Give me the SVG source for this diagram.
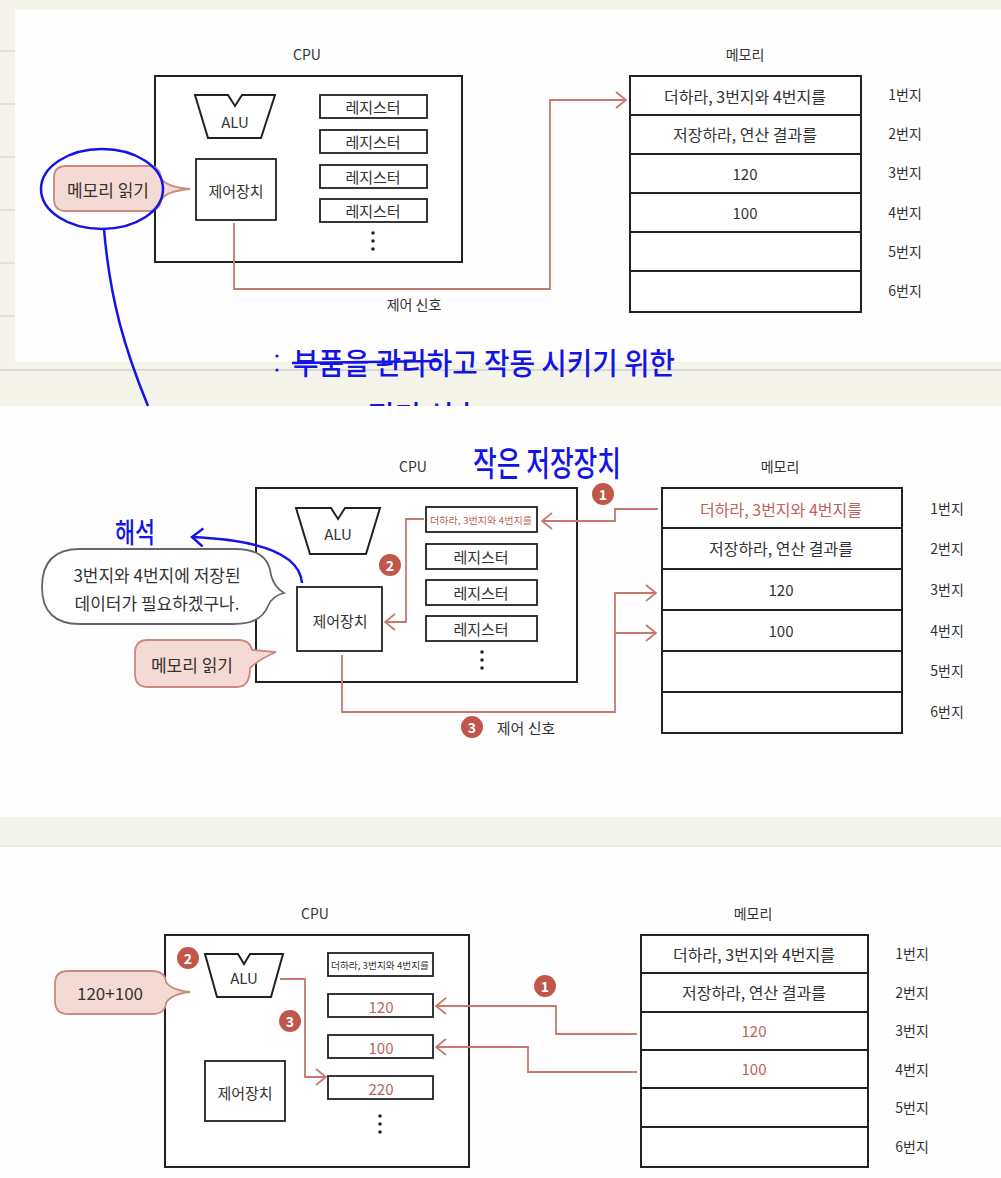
<svg xmlns="http://www.w3.org/2000/svg" width="1001" height="1178" viewBox="0 0 1001 1178">
<style>
text{font-family:"Noto Sans CJK KR","Noto Sans",sans-serif;fill:#333;dominant-baseline:central;text-anchor:middle}
.t{font-size:15px}
.m{font-size:16px}
.b{font-size:17px}
.s{font-size:14px}
.red{fill:#c0625a}
.box{fill:#fff;stroke:#222;stroke-width:2}
.reg{fill:#fff;stroke:#222;stroke-width:1.8}
.div{stroke:#222;stroke-width:1.8}
.con{fill:none;stroke:#c9786d;stroke-width:1.8}
.pink{fill:#f3dad4;stroke:#c98a80;stroke-width:1.8}
.bub{fill:#fff;stroke:#666;stroke-width:1.8}
.num{fill:#c0574a}
.numt{fill:#fff;font-size:14px;font-weight:bold}
.blue{fill:#1414e6;font-weight:500}
.bl{fill:none;stroke:#1414e6;stroke-width:2.5}
</style>
<defs>
<marker id="ar" viewBox="0 0 12 18" refX="11" refY="9" markerWidth="12" markerHeight="18" orient="auto" markerUnits="userSpaceOnUse">
<path d="M1,1 L11,9 L1,17" fill="none" stroke="#c9786d" stroke-width="1.8"/>
</marker>
<marker id="ab" viewBox="0 0 14 20" refX="12" refY="10" markerWidth="14" markerHeight="20" orient="auto" markerUnits="userSpaceOnUse">
<path d="M1,1 L12,10 L1,19" fill="none" stroke="#1414e6" stroke-width="2.5"/>
</marker>
<clipPath id="clipLow"><rect x="0" y="370" width="1001" height="36"/></clipPath>
</defs>

<!-- background -->
<rect x="0" y="0" width="1001" height="1178" fill="#f5f4ea"/>
<g stroke="#d6d6cf" stroke-width="1.2">
<line x1="0" y1="51" x2="15" y2="51"/><line x1="0" y1="104" x2="15" y2="104"/><line x1="0" y1="157" x2="15" y2="157"/>
<line x1="0" y1="210" x2="15" y2="210"/><line x1="0" y1="263" x2="15" y2="263"/><line x1="0" y1="316" x2="15" y2="316"/>
</g>
<rect x="15" y="10" width="986" height="352" fill="#fefefe"/>
<line x1="0" y1="370" x2="1001" y2="370" stroke="#cfcfcf" stroke-width="1.5"/>
<rect x="0" y="406" width="1001" height="411" fill="#fefefe"/>
<line x1="0" y1="846" x2="1001" y2="846" stroke="#e2e2da" stroke-width="1"/>
<rect x="0" y="847" width="1001" height="331" fill="#fefefe"/>

<!-- ================= PANEL 1 ================= -->
<g id="p1-cpu">
<text class="s" x="307" y="54">CPU</text>
<rect class="box" x="155" y="76" width="307" height="186"/>
</g>
<g id="p1-alu">
<path class="box" d="M195,95 H228 L235,106 L242,95 H275 L261,138 H208 Z"/>
<text class="t" x="235" y="121">ALU</text>
</g>
<g id="p1-cu">
<rect class="reg" x="196" y="159" width="80" height="61"/>
<text class="t" x="236" y="190">제어장치</text>
</g>
<g id="p1-regs">
<rect class="reg" x="320" y="95" width="107" height="23"/><text class="t" x="373" y="106">레지스터</text>
<rect class="reg" x="320" y="130" width="107" height="23"/><text class="t" x="373" y="141">레지스터</text>
<rect class="reg" x="320" y="165" width="107" height="23"/><text class="t" x="373" y="176">레지스터</text>
<rect class="reg" x="320" y="199" width="107" height="23"/><text class="t" x="373" y="210">레지스터</text>
<circle cx="373" cy="233" r="1.8" fill="#222"/><circle cx="373" cy="241" r="1.8" fill="#222"/><circle cx="373" cy="249" r="1.8" fill="#222"/>
</g>
<g id="p1-signal"><text class="s" x="414" y="304">제어 신호</text></g>
<g id="p1-mem">
<text class="s" x="745" y="54">메모리</text>
<rect class="box" x="630" y="76" width="231" height="236"/>
<line class="div" x1="630" y1="115" x2="861" y2="115"/><line class="div" x1="630" y1="154" x2="861" y2="154"/>
<line class="div" x1="630" y1="193" x2="861" y2="193"/><line class="div" x1="630" y1="232" x2="861" y2="232"/>
<line class="div" x1="630" y1="271" x2="861" y2="271"/>
<text class="m" x="745" y="96">더하라, 3번지와 4번지를</text>
<text class="m" x="745" y="134">저장하라, 연산 결과를</text>
<text class="t" x="745" y="173">120</text>
<text class="t" x="745" y="212">100</text>
</g>
<g id="p1-addr">
<text class="s" x="905" y="94">1번지</text><text class="s" x="905" y="133">2번지</text><text class="s" x="905" y="172">3번지</text>
<text class="s" x="905" y="212">4번지</text><text class="s" x="905" y="251">5번지</text><text class="s" x="905" y="290">6번지</text>
</g>
<g id="p1-bubble">
<path class="pink" d="M66,166 H148 Q160,166 161,178 Q166,187 190,189 Q166,191 161,200 Q160,211 148,211 H66 Q54,211 54,199 V178 Q54,166 66,166 Z"/>
<text class="b" x="108" y="189">메모리 읽기</text>
</g>
<g id="p1-connectors">
<path class="con" d="M234,223 V289 H550 V100 H626" marker-end="url(#ar)"/>
</g>
<g id="p1-ink">
<ellipse class="bl" cx="102" cy="189" rx="61" ry="40"/>
<path class="bl" d="M104,229 C110,300 125,350 148,406"/>
<circle cx="277" cy="356" r="1.6" fill="#1414e6"/><circle cx="277" cy="370" r="1.6" fill="#1414e6"/>
<line x1="292" y1="363" x2="440" y2="361" stroke="#1414e6" stroke-width="2.5"/>
<text class="blue" x="484" y="361" font-size="30" textLength="382" lengthAdjust="spacingAndGlyphs">부품을 관리하고 작동 시키기 위한</text>
<text class="blue" x="424" y="414" font-size="30" textLength="112" lengthAdjust="spacingAndGlyphs" clip-path="url(#clipLow)">전기 신호</text>
</g>

<!-- ================= PANEL 2 ================= -->
<g id="p2-cpu">
<text class="s" x="413" y="466">CPU</text>
<rect class="box" x="256" y="488" width="321" height="194"/>
</g>
<g id="p2-alu">
<path class="box" d="M296,508 H331 L338,519 L345,508 H380 L366,554 H310 Z"/>
<text class="t" x="338" y="533">ALU</text>
</g>
<g id="p2-cu">
<rect class="reg" x="297" y="587" width="85" height="64"/>
<text class="t" x="340" y="620">제어장치</text>
</g>
<g id="p2-regs">
<rect class="reg" x="426" y="507" width="111" height="25"/>
<text class="red" x="481" y="520" font-size="9.5" textLength="102" lengthAdjust="spacingAndGlyphs">더하라, 3번지와 4번지를</text>
<rect class="reg" x="426" y="544" width="111" height="25"/><text class="t" x="481" y="556">레지스터</text>
<rect class="reg" x="426" y="580" width="111" height="25"/><text class="t" x="481" y="592">레지스터</text>
<rect class="reg" x="426" y="616" width="111" height="25"/><text class="t" x="481" y="628">레지스터</text>
<circle cx="482" cy="652" r="1.8" fill="#222"/><circle cx="482" cy="660" r="1.8" fill="#222"/><circle cx="482" cy="668" r="1.8" fill="#222"/>
</g>
<g id="p2-mem">
<text class="s" x="780" y="466">메모리</text>
<rect class="box" x="662" y="488" width="240" height="245"/>
<line class="div" x1="662" y1="528" x2="902" y2="528"/><line class="div" x1="662" y1="569" x2="902" y2="569"/>
<line class="div" x1="662" y1="610" x2="902" y2="610"/><line class="div" x1="662" y1="651" x2="902" y2="651"/>
<line class="div" x1="662" y1="692" x2="902" y2="692"/>
<text class="m red" x="781" y="509">더하라, 3번지와 4번지를</text>
<text class="m" x="781" y="548">저장하라, 연산 결과를</text>
<text class="t" x="781" y="589">120</text>
<text class="t" x="781" y="630">100</text>
</g>
<g id="p2-addr">
<text class="s" x="947" y="508">1번지</text><text class="s" x="947" y="548">2번지</text><text class="s" x="947" y="589">3번지</text>
<text class="s" x="947" y="630">4번지</text><text class="s" x="947" y="670">5번지</text><text class="s" x="947" y="711">6번지</text>
</g>
<g id="p2-think">
<path class="bub" d="M80,549 H236 Q268,549 271,575 Q274,587 284,593 Q272,596 268,606 Q261,624 234,624 H80 Q42,624 42,587 Q42,549 80,549 Z"/>
<text class="b" x="157" y="574">3번지와 4번지에 저장된</text>
<text class="b" x="157" y="602">데이터가 필요하겠구나.</text>
</g>
<g id="p2-bubble">
<path class="pink" d="M148,640 H238 Q250,640 252,650 L276,652 Q258,660 250,668 Q250,687 237,687 H148 Q135,687 135,674 V653 Q135,640 148,640 Z"/>
<text class="b" x="192" y="664">메모리 읽기</text>
</g>
<g id="p2-connectors">
<path class="con" d="M424,519 H406 V622 H385" marker-end="url(#ar)"/>
<path class="con" d="M658,509 H615 V521 H542" marker-end="url(#ar)"/>
<path class="con" d="M342,655 V712 H615 V593 H656" marker-end="url(#ar)"/>
<path class="con" d="M615,633 H656" marker-end="url(#ar)"/>
</g>
<g id="p2-n1"><circle class="num" cx="603" cy="494" r="11"/><text class="numt" x="603" y="494">1</text></g>
<g id="p2-n2"><circle class="num" cx="390" cy="565" r="11"/><text class="numt" x="390" y="565">2</text></g>
<g id="p2-n3"><circle class="num" cx="472" cy="727" r="11"/><text class="numt" x="472" y="727">3</text><text class="t" x="526" y="727">제어 신호</text></g>
<g id="p2-ink">
<text class="blue" x="135" y="531" font-size="28" textLength="40" lengthAdjust="spacingAndGlyphs">해석</text>
<path class="bl" d="M302,583 C300,555 262,540 192,537" marker-end="url(#ab)"/>
<text class="blue" x="547" y="461" font-size="34" textLength="148" lengthAdjust="spacingAndGlyphs">작은 저장장치</text>
</g>

<!-- ================= PANEL 3 ================= -->
<g id="p3-cpu">
<text class="s" x="315" y="913">CPU</text>
<rect class="box" x="165" y="935" width="304" height="232"/>
</g>
<g id="p3-alu">
<path class="box" d="M205,954 H238 L244,964 L250,954 H283 L271,997 H217 Z"/>
<text class="t" x="244" y="977">ALU</text>
</g>
<g id="p3-cu">
<rect class="reg" x="205" y="1061" width="80" height="60"/>
<text class="t" x="245" y="1092">제어장치</text>
</g>
<g id="p3-regs">
<rect class="reg" x="328" y="953" width="105" height="23"/>
<text x="380" y="965" font-size="9.5" textLength="98" lengthAdjust="spacingAndGlyphs">더하라, 3번지와 4번지를</text>
<rect class="reg" x="328" y="994" width="105" height="23"/><text class="t red" x="381" y="1006">120</text>
<rect class="reg" x="328" y="1035" width="105" height="23"/><text class="t red" x="381" y="1047">100</text>
<rect class="reg" x="328" y="1076" width="105" height="23"/><text class="t red" x="381" y="1088">220</text>
<circle cx="380" cy="1116" r="1.8" fill="#222"/><circle cx="380" cy="1124" r="1.8" fill="#222"/><circle cx="380" cy="1132" r="1.8" fill="#222"/>
</g>
<g id="p3-bubble">
<path class="pink" d="M68,971 H152 Q165,971 166,982 Q171,990 190,992 Q171,994 166,1003 Q165,1014 152,1014 H68 Q55,1014 55,1001 V984 Q55,971 68,971 Z"/>
<text class="b" x="110" y="992">120+100</text>
</g>
<g id="p3-mem">
<text class="s" x="753" y="913">메모리</text>
<rect class="box" x="641" y="935" width="227" height="232"/>
<line class="div" x1="641" y1="973" x2="868" y2="973"/><line class="div" x1="641" y1="1012" x2="868" y2="1012"/>
<line class="div" x1="641" y1="1050" x2="868" y2="1050"/><line class="div" x1="641" y1="1088" x2="868" y2="1088"/>
<line class="div" x1="641" y1="1127" x2="868" y2="1127"/>
<text class="m" x="754" y="954">더하라, 3번지와 4번지를</text>
<text class="m" x="754" y="992">저장하라, 연산 결과를</text>
<text class="t red" x="754" y="1030">120</text>
<text class="t red" x="754" y="1068">100</text>
</g>
<g id="p3-addr">
<text class="s" x="912" y="953">1번지</text><text class="s" x="912" y="992">2번지</text><text class="s" x="912" y="1030">3번지</text>
<text class="s" x="912" y="1069">4번지</text><text class="s" x="912" y="1107">5번지</text><text class="s" x="912" y="1146">6번지</text>
</g>
<g id="p3-connectors">
<path class="con" d="M280,979 H305 V1077 H326" marker-end="url(#ar)"/>
<path class="con" d="M637,1034 H556 V1006 H436" marker-end="url(#ar)"/>
<path class="con" d="M637,1072 H528 V1047 H436" marker-end="url(#ar)"/>
</g>
<g id="p3-n1"><circle class="num" cx="545" cy="986" r="11"/><text class="numt" x="545" y="986">1</text></g>
<g id="p3-n2"><circle class="num" cx="188" cy="958" r="11"/><text class="numt" x="188" y="958">2</text></g>
<g id="p3-n3"><circle class="num" cx="290" cy="1021" r="11"/><text class="numt" x="290" y="1021">3</text></g>
</svg>
